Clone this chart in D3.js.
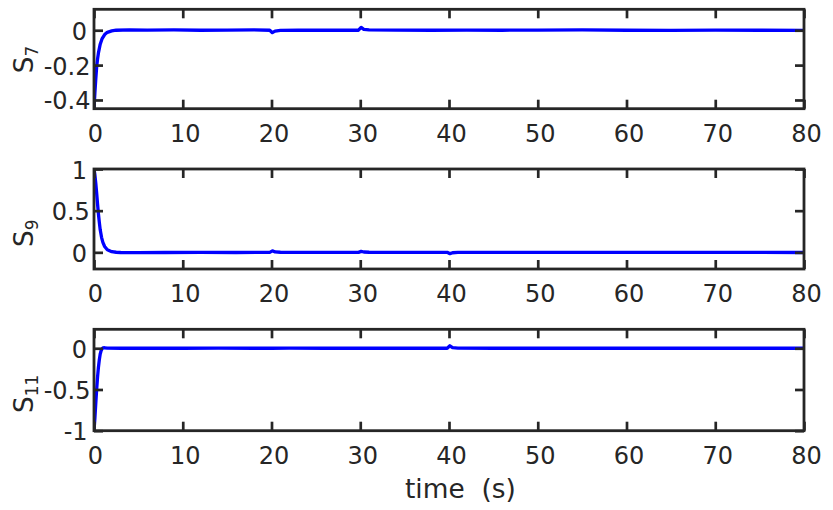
<!DOCTYPE html>
<html>
<head>
<meta charset="utf-8">
<script src="https://cdn.jsdelivr.net/npm/d3@7"></script>
<style>
    body { margin: 0; background: #fff; }
    text { fill: #262626; font-family: "DejaVu Sans", sans-serif; }
</style>
</head>
<body>
<div id="chart-area"></div>
<script>
// data
const timeTicks = [0, 10, 20, 30, 40, 50, 60, 70, 80];

const s7Time = [0, 0.1, 0.2, 0.3, 0.4, 0.5, 0.7, 0.9, 1.2, 1.5, 2, 2.5, 4, 6, 9, 12, 15, 18, 19.8, 20.1,
    20.4, 21, 23, 26, 29.8, 30.1, 30.4, 31, 34, 38, 42, 46, 50, 55, 60, 65, 70, 75, 80];
const s7Values = [-0.45, -0.36, -0.28, -0.21, -0.165, -0.13, -0.08, -0.05, -0.025, -0.012, -0.004, 0, 0.002, 0.001, 0.002, 0, 0.001, 0.002, 0, -0.014,
    -0.005, -0.001, 0.001, 0, 0, 0.016, 0.005, 0.002, 0.001, 0, 0.001, 0, 0.001, 0.002, 0, -0.001, 0.001, 0, -0.001];
const s7Ticks = [-0.4, -0.2, 0];

const s9Time = [0, 0.1, 0.2, 0.3, 0.4, 0.5, 0.6, 0.7, 0.85, 1.0, 1.2, 1.5, 2, 2.5, 3, 5, 8, 12, 16, 19.8,
    20.1, 20.4, 21, 25, 29.8, 30.1, 30.4, 31, 35, 39.8, 40.1, 40.4, 41, 45, 50, 55, 60, 65, 70, 75, 80];
const s9Values = [1, 0.93, 0.83, 0.71, 0.58, 0.46, 0.36, 0.27, 0.18, 0.12, 0.07, 0.03, 0.008, 0.001, -0.002, -0.003, -0.002, -0.001, -0.002, 0,
    0.018, 0.005, 0.001, 0, 0, 0.012, 0.004, 0.001, 0, 0, -0.016, -0.005, -0.001, 0, -0.001, 0, -0.001, 0, -0.001, 0, -0.002];
const s9Ticks = [0, 0.5, 1];

const s11Time = [0, 0.1, 0.2, 0.3, 0.4, 0.5, 0.6, 0.7, 0.8, 0.9, 1.0, 1.2, 1.5, 3, 6, 10, 14, 18, 20, 22,
    26, 30, 34, 39.8, 40.1, 40.4, 41, 45, 50, 55, 60, 65, 70, 75, 80];
const s11Values = [-1, -0.85, -0.67, -0.5, -0.35, -0.23, -0.14, -0.07, -0.03, -0.01, 0.005, 0.006, 0.002, 0, 0, 0, 0.001, 0, 0, 0.001,
    0, 0, 0, 0, 0.03, 0.008, 0.002, 0, 0, 0, 0, 0, 0, 0, 0];
const s11Ticks = [-1, -0.5, 0];

const width = 833;
const height = 510;
const left = 94;
const right = 804;
const tickLen = 9;
const tickFont = 24;
const labelFont = 26.4;

const panels = [
    { time: s7Time, values: s7Values, ticks: s7Ticks, domain: [-0.45, 0.12], sub: "7", top: 9.3, bottom: 108.7, labelStart: 73.3 },
    { time: s9Time, values: s9Values, ticks: s9Ticks, domain: [-0.2, 1], sub: "9", top: 169, bottom: 269, labelStart: 247 },
    { time: s11Time, values: s11Values, ticks: s11Ticks, domain: [-1, 0.23], sub: "11", top: 329.3, bottom: 430.7, labelStart: 413 }
];

const svg = d3.select("#chart-area").append("svg")
    .attr("width", width)
    .attr("height", height);

// labels are laid out with Helvetica-like metrics, drawn in DejaVu (as in the original)
const measure = svg.append("text")
    .style("font-family", "'Liberation Sans', Arial, sans-serif")
    .attr("visibility", "hidden");
function metricWidth(str, size) {
    measure.style("font-size", size + "px").text(str);
    return measure.node().getComputedTextLength();
}

const x = d3.scaleLinear()
    .domain([0, 80])
    .range([left, right]);

panels.forEach((p, i) => {
    const y = d3.scaleLinear()
        .domain(p.domain)
        .range([p.bottom, p.top]);

    const g = svg.append("g");

    g.append("clipPath")
        .attr("id", "clip" + i)
        .append("rect")
        .attr("x", left)
        .attr("y", p.top)
        .attr("width", right - left)
        .attr("height", p.bottom - p.top);

    const line = d3.line()
        .x((d, k) => x(p.time[k]))
        .y(d => y(d));

    g.append("path")
        .datum(p.values)
        .attr("clip-path", `url(#clip${i})`)
        .attr("fill", "none")
        .attr("stroke", "#0000ff")
        .attr("stroke-width", 3.3)
        .attr("stroke-linejoin", "round")
        .attr("d", line);

    // inward ticks on all four sides
    const axes = [
        { call: d3.axisBottom(x).tickValues(timeTicks), t: `translate(0, ${p.bottom})`, labels: "x" },
        { call: d3.axisTop(x).tickValues(timeTicks), t: `translate(0, ${p.top})` },
        { call: d3.axisLeft(y).tickValues(p.ticks), t: `translate(${left}, 0)`, labels: "y" },
        { call: d3.axisRight(y).tickValues(p.ticks), t: `translate(${right}, 0)` }
    ];
    axes.forEach(a => {
        const ag = g.append("g")
            .attr("transform", a.t)
            .call(a.call.tickSize(-tickLen).tickFormat(d => String(d)));
        ag.select(".domain").remove();
        ag.selectAll(".tick line")
            .attr("stroke", "#262626")
            .attr("stroke-width", 2.7);
        ag.attr("font-family", null).attr("font-size", null);
        const txt = ag.selectAll(".tick text")
            .style("font-size", tickFont + "px")
            .attr("fill", "#262626");
        if (a.labels === "x") {
            txt.each(function() {
                const w = metricWidth(this.textContent, tickFont);
                d3.select(this)
                    .attr("text-anchor", "start")
                    .attr("x", -w / 2)
                    .attr("y", 33)
                    .attr("dy", 0);
            });
        } else if (a.labels === "y") {
            txt.each(function() {
                const w = metricWidth(this.textContent, tickFont);
                d3.select(this)
                    .attr("text-anchor", "start")
                    .attr("x", -tickLen - w)
                    .attr("dy", 9);
            });
        } else {
            txt.remove();
        }
    });

    g.append("rect")
        .attr("x", left)
        .attr("y", p.top)
        .attr("width", right - left)
        .attr("height", p.bottom - p.top)
        .attr("fill", "none")
        .attr("stroke", "#262626")
        .attr("stroke-width", 2.8);

    const yl = g.append("text")
        .attr("transform", `translate(33, ${p.labelStart}) rotate(-90)`)
        .style("font-size", labelFont + "px");
    yl.append("tspan").text("S");
    yl.append("tspan")
        .attr("dy", 5)
        .style("font-size", "17px")
        .text(p.sub);
});

const xLabel = "time  (s)";
svg.append("text")
    .attr("x", (left + right) / 2 - metricWidth(xLabel, labelFont) / 2)
    .attr("y", 498)
    .style("font-size", labelFont + "px")
    .style("white-space", "pre")
    .attr("xml:space", "preserve")
    .text(xLabel);

measure.remove();
</script>
</body>
</html>
